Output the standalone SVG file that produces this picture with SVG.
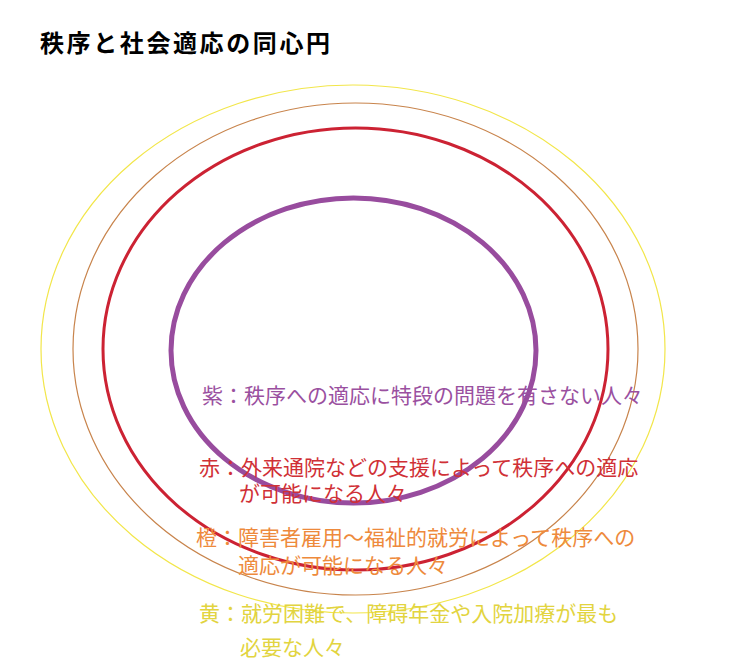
<svg xmlns="http://www.w3.org/2000/svg" width="751" height="666" viewBox="0 0 751 666">
<style>
.t{font-family:"Noto Sans CJK JP","Noto Sans CJK SC",sans-serif;font-size:21px}
.title{font-family:"Noto Sans CJK JP","Noto Sans CJK SC",sans-serif;font-size:24px;font-weight:bold;letter-spacing:2.6px;fill:#000}
.ring{fill:none}
</style>
<rect width="751" height="666" fill="#fff"/>
<text class="title" x="40" y="52">秩序と社会適応の同心円</text>
<g id="rings">
<g id="yellow-ring"><ellipse class="ring" cx="353" cy="349" rx="312" ry="264" stroke="#f2e64a" stroke-width="1.2"/></g>
<g id="orange-ring"><ellipse class="ring" cx="355.5" cy="349" rx="282.5" ry="246" stroke="#c8844c" stroke-width="1.2"/></g>
<g id="red-ring"><ellipse class="ring" cx="355.5" cy="349" rx="252.5" ry="221" stroke="#cc2233" stroke-width="3"/></g>
<g id="purple-ring"><ellipse class="ring" cx="353.5" cy="350.5" rx="182.5" ry="152.5" stroke="#984c9e" stroke-width="5"/></g>
</g>
<g id="labels">
<text class="t" fill="#9a50a0" x="202" y="403">紫：秩序への適応に特段の問題を有さない人々</text>
<text class="t" fill="#d03036" x="199" y="475">赤：外来通院などの支援によって秩序への適応</text>
<text class="t" fill="#d03036" x="239" y="501">が可能になる人々</text>
<text class="t" fill="#ee8a3c" x="196" y="545">橙：障害者雇用～福祉的就労によって秩序への</text>
<text class="t" fill="#ee8a3c" x="238" y="573">適応が可能になる人々</text>
<text class="t" fill="#e2d440" x="199" y="621">黄：就労困難で、障碍年金や入院加療が最も</text>
<text class="t" fill="#e2d440" x="240" y="655">必要な人々</text>
</g>
</svg>
